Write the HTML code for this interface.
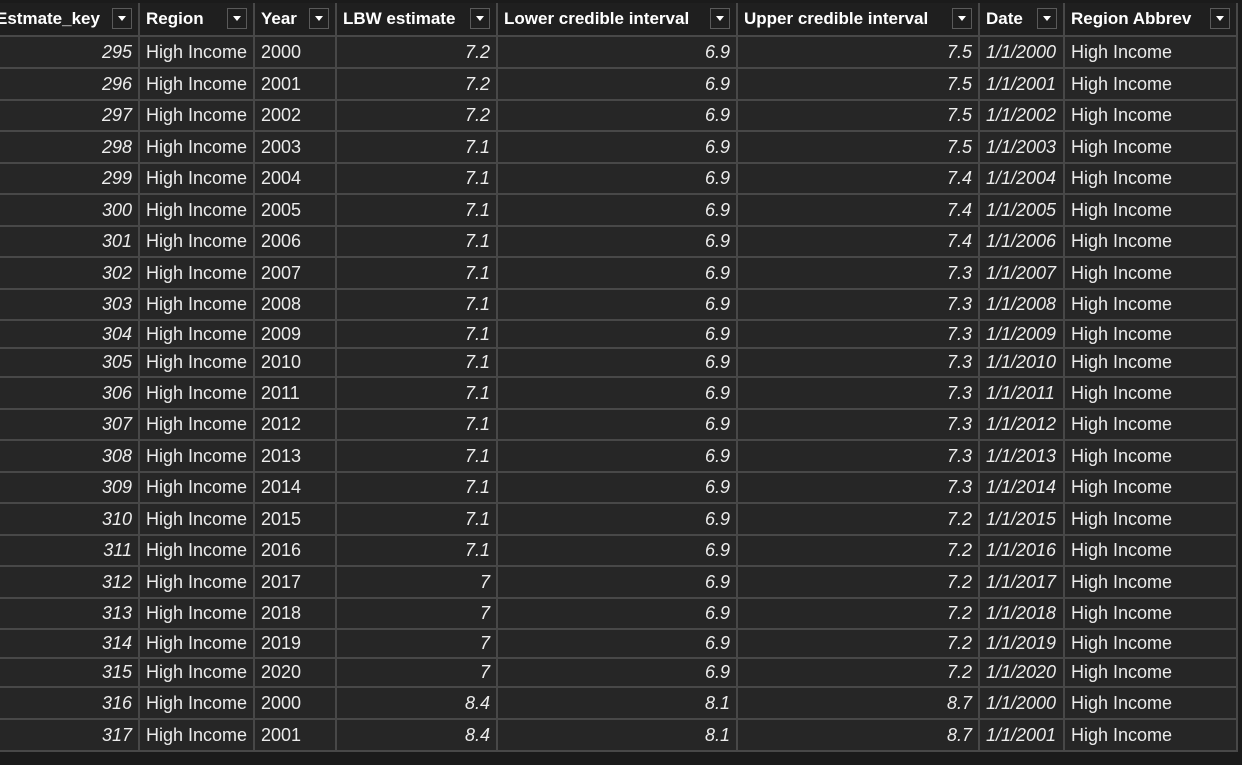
<!DOCTYPE html>
<html><head><meta charset="utf-8"><style>
html,body{margin:0;padding:0;background:#1b1b1b;width:1242px;height:765px;overflow:hidden;font-family:"Segoe UI","Liberation Sans",sans-serif;}
#t{position:absolute;left:0;top:0;width:1242px;height:765px;}
.c{position:absolute;box-sizing:border-box;border-right:2px solid #484848;border-bottom:2px solid #484848;color:#ececec;font-size:18px;white-space:nowrap;overflow:hidden;display:flex;align-items:center;padding:0 6px;}
.b{background:#262626;}
.h{background:#1f1f1f;font-weight:bold;font-size:17px;color:#fff;}
.r{justify-content:flex-end;font-style:italic;}
.i{font-style:italic;}
.dd{position:absolute;right:6px;top:5px;width:20px;height:21px;box-sizing:border-box;border:1px solid #5a5a5a;}
.dd:after{content:"";position:absolute;left:5px;top:7px;border-left:4px solid transparent;border-right:4px solid transparent;border-top:5px solid #fff;}
</style></head><body>
<div id="t"></div>
<script>
const keys=[295,296,297,298,299,300,301,302,303,304,305,306,307,308,309,310,311,312,313,314,315,316,317];
const years=[2000,2001,2002,2003,2004,2005,2006,2007,2008,2009,2010,2011,2012,2013,2014,2015,2016,2017,2018,2019,2020,2000,2001];
const lbw=["7.2","7.2","7.2","7.1","7.1","7.1","7.1","7.1","7.1","7.1","7.1","7.1","7.1","7.1","7.1","7.1","7.1","7","7","7","7","8.4","8.4"];
const lower=["6.9","6.9","6.9","6.9","6.9","6.9","6.9","6.9","6.9","6.9","6.9","6.9","6.9","6.9","6.9","6.9","6.9","6.9","6.9","6.9","6.9","8.1","8.1"];
const upper=["7.5","7.5","7.5","7.5","7.4","7.4","7.4","7.3","7.3","7.3","7.3","7.3","7.3","7.3","7.3","7.2","7.2","7.2","7.2","7.2","7.2","8.7","8.7"];
const headers=["Estmate_key","Region","Year","LBW estimate","Lower credible interval","Upper credible interval","Date","Region Abbrev"];
const colX=[-10,140,255,337,498,738,980,1065,1238];
const centers=[52,84,115,147,178,210,241,273,304,335,361,393,424,456,487,519,550,582,613,645,671,703,734];
const t=document.getElementById('t');
function cell(x,y,w,h,txt,cls){
  const d=document.createElement('div');
  d.className='c '+cls;
  d.style.left=x+'px';d.style.top=y+'px';d.style.width=w+'px';d.style.height=h+'px';
  d.textContent=txt;
  t.appendChild(d);return d;
}
headers.forEach((hd,j)=>{
  const d=cell(colX[j],3,colX[j+1]-colX[j],34,hd,'h');
  
  
  const dd=document.createElement('span');dd.className='dd';
  
  
  d.appendChild(dd);
});
let prevBottom=37;
keys.forEach((k,i)=>{
  const bottom=i<keys.length-1?Math.round((centers[i]+centers[i+1])/2)+1:752;
  const h=bottom-prevBottom;
  const vals=[String(k),"High Income",String(years[i]),lbw[i],lower[i],upper[i],"1/1/"+years[i],"High Income"];
  const cls=['b r','b','b','b r','b r','b r','b i','b'];
  vals.forEach((v,j)=>{
    const d=cell(colX[j],prevBottom,colX[j+1]-colX[j],h,v,cls[j]);
    
    
  });
  prevBottom=bottom;
});
</script>
</body></html>
